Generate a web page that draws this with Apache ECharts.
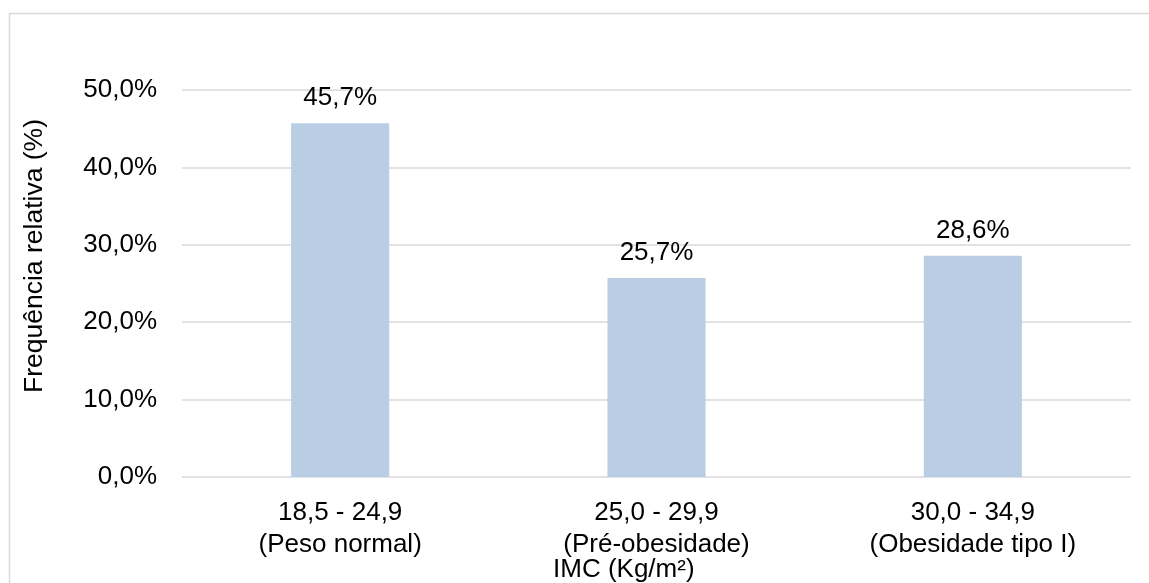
<!DOCTYPE html>
<html>
<head>
<meta charset="utf-8">
<style>
  html, body { margin: 0; padding: 0; background: #ffffff; }
  #chart { width: 1149px; height: 583px; }
</style>
<script src="https://cdn.jsdelivr.net/npm/echarts@6/dist/echarts.min.js"></script>
</head>
<body>
<div id="chart"></div>
<script>
// IMC classes and relative frequency (%)
const categories = ['18,5 - 24,9\n(Peso normal)', '25,0 - 29,9\n(Pré-obesidade)', '30,0 - 34,9\n(Obesidade tipo I)'];
const frequencies = [45.7, 25.7, 28.6];
const yTicks = { min: 0, max: 50, interval: 10 };
const xTitle = 'IMC (Kg/m²)';
const yTitle = 'Frequência relativa (%)';

const fmt = v => v.toFixed(1).replace('.', ',') + '%';
const FONT = '"Liberation Sans", Arial, sans-serif';

const chart = echarts.init(document.getElementById('chart'), null, { renderer: 'canvas' });
chart.setOption({
  animation: false,
  backgroundColor: '#ffffff',
  textStyle: { fontFamily: FONT },
  grid: { left: 182, right: 18, top: 90, bottom: 106 },
  graphic: [
    {
      type: 'rect',
      shape: { x: 9.5, y: 13.5, width: 1160, height: 600 },
      style: { fill: 'none', stroke: '#d9d9d9', lineWidth: 1.5 },
      silent: true
    },
    {
      type: 'text',
      left: 553, top: 557,
      style: { text: xTitle, font: '26px ' + FONT, fill: '#000000' }
    },
    {
      type: 'text',
      x: 35, y: 256, rotation: Math.PI / 2,
      style: {
        text: yTitle, font: '26.5px ' + FONT, fill: '#000000',
        align: 'center', verticalAlign: 'middle'
      }
    }
  ],
  xAxis: {
    type: 'category',
    data: categories,
    axisLine: { show: false },
    axisTick: { show: false },
    axisLabel: {
      color: '#000000', fontSize: 26, lineHeight: 32, margin: 20, interval: 0
    }
  },
  yAxis: {
    type: 'value',
    min: yTicks.min, max: yTicks.max, interval: yTicks.interval,
    axisLine: { show: false },
    axisTick: { show: false },
    axisLabel: { color: '#000000', fontSize: 26, margin: 25, formatter: v => fmt(v) },
    splitLine: { lineStyle: { color: '#d9d9d9', width: 1.5 } }
  },
  series: [{
    type: 'bar',
    data: frequencies,
    barWidth: '31%',
    itemStyle: { color: '#b9cde5' },
    label: {
      show: true, position: 'top', distance: 12,
      color: '#000000', fontSize: 26, formatter: p => fmt(p.value)
    }
  }]
});
</script>
</body>
</html>
